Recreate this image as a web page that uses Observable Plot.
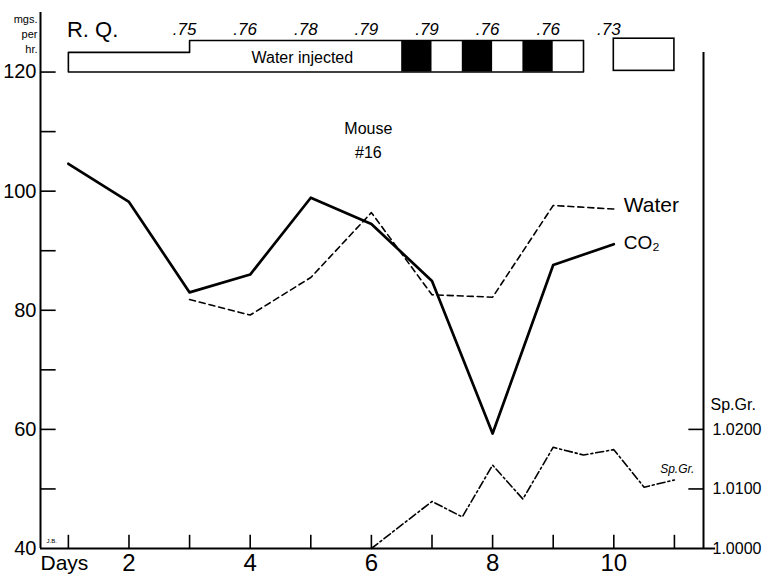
<!DOCTYPE html>
<html><head><meta charset="utf-8">
<script src="https://cdn.jsdelivr.net/npm/d3@7"></script>
<script src="https://cdn.jsdelivr.net/npm/@observablehq/plot@0.6"></script>
<style>
html,body{margin:0;padding:0;background:#fff;}
#chart svg{display:block;}
</style></head><body><div id="chart"></div>
<script>
// ---- data ----
const days = [1, 2, 3, 4, 5, 6, 7, 8, 9, 10];
const co2 = [104.6, 98.2, 83.0, 86.0, 98.9, 94.5, 84.9, 59.3, 87.6, 91.1];
const waterDays = [3, 4, 5, 6, 7, 8, 9, 10];
const water = [81.8, 79.2, 85.5, 96.4, 82.6, 82.2, 97.6, 97.0];
const spDays = [6, 7, 7.5, 8, 8.5, 9, 9.5, 10, 10.5, 11];
const spGr = [1.0000, 1.0079, 1.0053, 1.0140, 1.0083, 1.0170, 1.0157, 1.0166, 1.0103, 1.0115];
const rqDays = [3, 4, 5, 6, 7, 8, 9, 10];
const rq = [0.75, 0.76, 0.78, 0.79, 0.79, 0.76, 0.76, 0.73];
const controlPeriod = [1, 3];
const injectedPeriod = [3, 9.5];
const darkPeriods = [[6.5, 7], [7.5, 8], [8.5, 9]];
const laterPeriod = [10, 11];
const leftTickLabels = [40, 60, 80, 100, 120];
const leftTickMarks = [50, 60, 70, 80, 90, 100, 110, 120];
const dayTickMarks = [1, 2, 3, 4, 5, 6, 7, 8, 9, 10, 11];
const dayTickLabels = [2, 4, 6, 8, 10];
const spTickLabels = [1.0000, 1.0100, 1.0200];
const spTickMarks = [1.0100, 1.0200];

// ---- helpers ----
const spToY = s => 40 + (s - 1) * 1000;   // Sp.Gr. axis shares the mg scale
const xMin = 0.54, xMax = 11.48;
const FONT = "Liberation Sans, Arial, sans-serif";
const bandLow = 120, bandMid = 123.3, bandHigh = 125.3;

const co2Data = days.map((d, i) => ({day: d, v: co2[i]}));
const waterData = waterDays.map((d, i) => ({day: d, v: water[i]}));
const spData = spDays.map((d, i) => ({day: d, v: spToY(spGr[i])}));
const rqData = rqDays.map((d, i) => ({day: d, rq: rq[i]}));
const bandOutline = [
  {day: controlPeriod[0], v: bandLow},
  {day: controlPeriod[0], v: bandMid},
  {day: controlPeriod[1], v: bandMid},
  {day: injectedPeriod[0], v: bandHigh},
  {day: injectedPeriod[1], v: bandHigh},
  {day: injectedPeriod[1], v: bandLow},
  {day: controlPeriod[0], v: bandLow}
];

const chart = Plot.plot({
  width: 770,
  height: 577,
  marginLeft: 40,
  marginRight: 67,
  marginTop: 12,
  marginBottom: 29,
  style: {fontFamily: FONT, color: "black", background: "white"},
  x: {domain: [xMin, xMax]},
  y: {domain: [40, 130]},
  marks: [
    // axis lines
    Plot.ruleX([xMin], {y1: 40, y2: 130, strokeWidth: 2}),
    Plot.ruleX([xMax], {y1: 40, y2: bandMid, strokeWidth: 2}),
    Plot.ruleY([40], {x1: xMin, x2: 11.68, strokeWidth: 2}),
    // inward tick marks
    Plot.link(leftTickMarks, {x1: xMin, x2: xMin + 0.25, y1: d => d, y2: d => d, strokeWidth: 1.6}),
    Plot.link(dayTickMarks, {x1: d => d, x2: d => d, y1: 40, y2: 42.3, strokeWidth: 1.6}),
    Plot.link(spTickMarks, {x1: xMax - 0.25, x2: xMax, y1: d => spToY(d), y2: d => spToY(d), strokeWidth: 1.6}),
    // axis labels
    Plot.axisY({anchor: "left", ticks: leftTickLabels, tickSize: 0, tickPadding: 4, label: null, fontSize: 20}),
    Plot.axisY({anchor: "right", ticks: spTickLabels.map(spToY), tickFormat: d => (1 + (d - 40) / 1000).toFixed(4),
      tickSize: 0, tickPadding: 9, label: null, fontSize: 16}),
    Plot.axisX({ticks: dayTickLabels, tickSize: 0, tickPadding: 5, label: null, fontSize: 24}),
    Plot.text(["Days"], {x: xMin, y: 40, textAnchor: "start", lineAnchor: "top", dy: 7, fontSize: 21}),
    Plot.text(["mgs.\nper\nhr."], {x: xMin, y: 130, textAnchor: "end", lineAnchor: "top", dx: -3, dy: 0, fontSize: 11, lineHeight: 1.35}),
    Plot.text(["Sp.Gr."], {x: xMax, y: spToY(1.0241), textAnchor: "start", dx: 7, fontSize: 16}),
    Plot.text(["J.B."], {x: xMin, y: 40, textAnchor: "start", dx: 6, dy: -7, fontSize: 6}),
    // header band
    Plot.rect(darkPeriods, {x1: d => d[0], x2: d => d[1], y1: bandLow, y2: bandHigh, fill: "black"}),
    Plot.line(bandOutline, {x: "day", y: "v", stroke: "black", strokeWidth: 1.6, curve: "linear"}),
    Plot.rect([laterPeriod], {x1: d => d[0], x2: d => d[1], y1: 120.2, y2: 125.6, fill: "none", stroke: "black", strokeWidth: 1.6}),
    Plot.text(["Water injected"], {x: 4.86, y: 122.4, fontSize: 16}),
    Plot.text(["R. Q."], {x: 1.4, y: 127.1, fontSize: 22}),
    Plot.text(rqData, {x: "day", y: 127.1, text: d => d3.format(".2f")(d.rq).replace(/^0/, ""), dx: -5, fontSize: 17, fontStyle: "italic"}),
    // annotations
    Plot.text(["Mouse"], {x: 5.95, y: 110.4, fontSize: 16}),
    Plot.text(["#16"], {x: 5.95, y: 106.4, fontSize: 16}),
    // data lines
    Plot.line(waterData, {x: "day", y: "v", stroke: "black", strokeWidth: 1.6, strokeDasharray: "6,4"}),
    Plot.line(co2Data, {x: "day", y: "v", stroke: "black", strokeWidth: 2.7, strokeLinejoin: "round"}),
    Plot.line(spData, {x: "day", y: "v", stroke: "black", strokeWidth: 1.6, strokeDasharray: "8,3,2,3"}),
    // series labels
    Plot.text([waterData[waterData.length - 1]], {x: "day", y: "v", text: () => "Water", textAnchor: "start", dx: 10, dy: -4, fontSize: 21}),
    Plot.text([co2Data[co2Data.length - 1]], {x: "day", y: "v", text: () => "CO\u2082", textAnchor: "start", dx: 10, dy: -1, fontSize: 19}),
    Plot.text([spData[spData.length - 1]], {x: "day", y: "v", text: () => "Sp.Gr.", textAnchor: "end", dx: 20, dy: -11, fontSize: 12, fontStyle: "italic"})
  ]
});
document.getElementById("chart").append(chart);
</script>
</body></html>
